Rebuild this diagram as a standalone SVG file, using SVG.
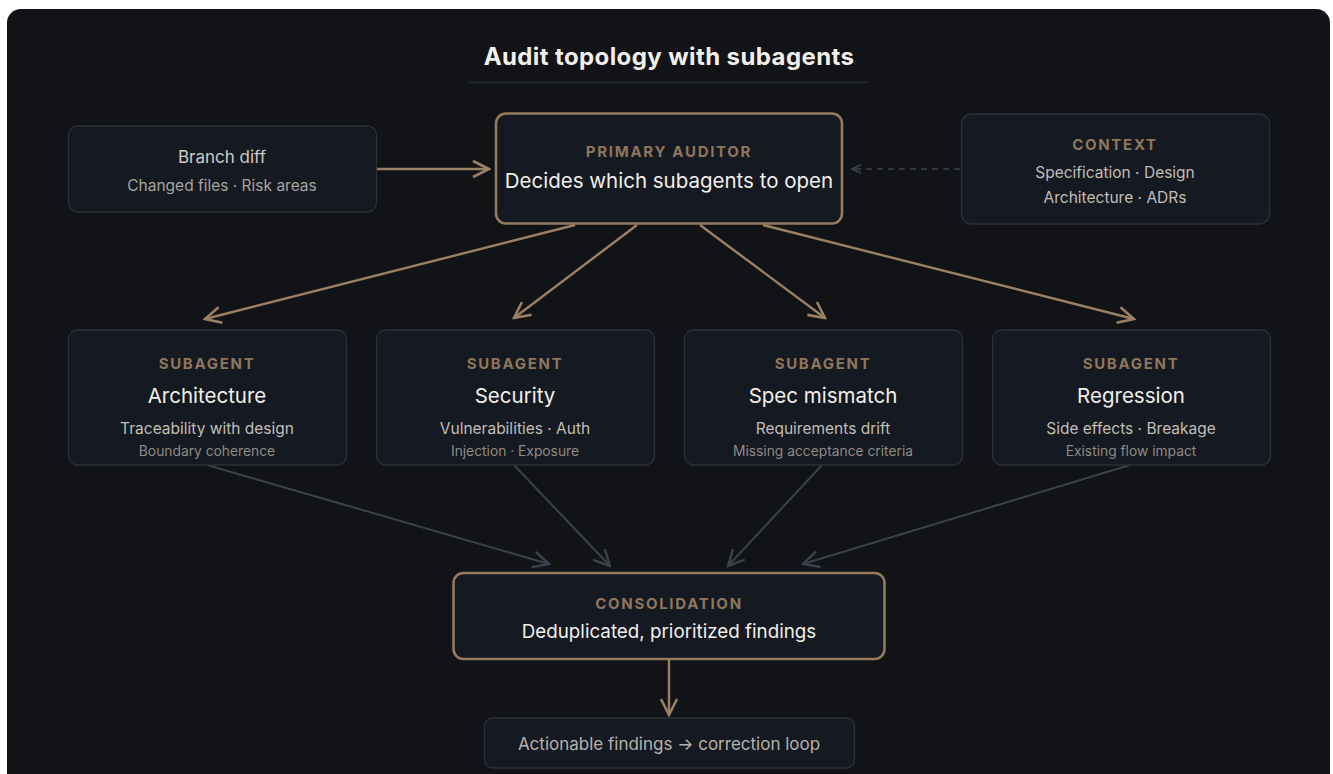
<svg xmlns="http://www.w3.org/2000/svg" width="1333" height="774" viewBox="0 0 1333 774">
<style>
text{font-family:Inter,"Noto Sans","Liberation Sans",sans-serif;text-anchor:middle}
.node{fill:#151921;stroke:#2c313a;stroke-width:1.3}
.main{fill:#151921;stroke:#957a5e;stroke-width:2.6}
.tag{font-size:15px;font-weight:700;letter-spacing:1.7px;fill:#8f765c}
.h{font-size:20.5px;fill:#f2efea}
.h2{font-size:17px;fill:#cfcbc4}
.s1{font-size:15.5px;fill:#c2beb7}
.s2{font-size:13.8px;fill:#8f8b85}
.gold{stroke:#9a8065;stroke-width:2.4;fill:none}
.grey{stroke:#3b424d;stroke-width:2;fill:none}
.dash{stroke:#3e444e;stroke-width:1.6;fill:none;stroke-dasharray:6 5}
</style>
<defs>
<marker id="ag" viewBox="0 0 20 20" refX="18" refY="10" markerWidth="20" markerHeight="20" markerUnits="userSpaceOnUse" orient="auto">
<path d="M2,2 L18,10 L2,18" fill="none" stroke="#9a8065" stroke-width="2.6"/>
</marker>
<marker id="ar" viewBox="0 0 20 20" refX="18" refY="10" markerWidth="20" markerHeight="20" markerUnits="userSpaceOnUse" orient="auto">
<path d="M2,2 L18,10 L2,18" fill="none" stroke="#3b424d" stroke-width="2.4"/>
</marker>
<marker id="ad" viewBox="0 0 12 12" refX="11" refY="6" markerWidth="12" markerHeight="12" markerUnits="userSpaceOnUse" orient="auto">
<path d="M2,2 L11,6 L2,10" fill="none" stroke="#3e444e" stroke-width="1.6"/>
</marker>
</defs>
<rect x="0" y="0" width="1333" height="774" fill="#ffffff"/>
<rect x="7" y="9" width="1323" height="780" rx="14" fill="#111317"/>
<g id="title">
<text x="669" y="65" style="font-size:24px;font-weight:700;fill:#f2efea;letter-spacing:0.4px">Audit topology with subagents</text>
<line x1="469" y1="82.5" x2="868" y2="82.5" stroke="#272b33" stroke-width="1.3"/>
</g>
<g id="connectors">
<line class="gold" x1="377" y1="169" x2="489" y2="169" marker-end="url(#ag)"/>
<line class="dash" x1="960" y1="169" x2="852" y2="169" marker-end="url(#ad)"/>
<line class="gold" x1="575" y1="225" x2="205" y2="319" marker-end="url(#ag)"/>
<line class="gold" x1="637" y1="225" x2="514" y2="318" marker-end="url(#ag)"/>
<line class="gold" x1="700" y1="225" x2="825" y2="318" marker-end="url(#ag)"/>
<line class="gold" x1="763" y1="225" x2="1134" y2="319" marker-end="url(#ag)"/>
<line class="grey" x1="207" y1="465" x2="549" y2="564" marker-end="url(#ar)"/>
<line class="grey" x1="514" y1="465" x2="610" y2="566" marker-end="url(#ar)"/>
<line class="grey" x1="822" y1="465" x2="728" y2="566" marker-end="url(#ar)"/>
<line class="grey" x1="1130" y1="465" x2="803" y2="564" marker-end="url(#ar)"/>
<line class="gold" x1="669" y1="660" x2="669" y2="715" marker-end="url(#ag)"/>
</g>
<g id="branch-diff">
<rect class="node" x="68.5" y="126" width="308" height="86" rx="9"/>
<text class="h2" x="222" y="163">Branch diff</text>
<text class="s1" x="222" y="191" style="fill:#a9a49d">Changed files · Risk areas</text>
</g>
<g id="primary-auditor">
<rect class="main" x="496" y="113.5" width="346" height="110" rx="10"/>
<text class="tag" x="669" y="157">PRIMARY AUDITOR</text>
<text class="h" x="669" y="188">Decides which subagents to open</text>
</g>
<g id="context">
<rect class="node" x="961.5" y="114" width="308" height="110" rx="10"/>
<text class="tag" x="1115" y="150">CONTEXT</text>
<text class="s1" x="1115" y="178">Specification · Design</text>
<text class="s1" x="1115" y="203">Architecture · ADRs</text>
</g>
<g id="sub-architecture">
<rect class="node" x="68.5" y="330" width="278" height="135" rx="9"/>
<text class="tag" x="207" y="369">SUBAGENT</text>
<text class="h" x="207" y="403">Architecture</text>
<text class="s1" x="207" y="434">Traceability with design</text>
<text class="s2" x="207" y="456">Boundary coherence</text>
</g>
<g id="sub-security">
<rect class="node" x="376.5" y="330" width="278" height="135" rx="9"/>
<text class="tag" x="515" y="369">SUBAGENT</text>
<text class="h" x="515" y="403">Security</text>
<text class="s1" x="515" y="434">Vulnerabilities · Auth</text>
<text class="s2" x="515" y="456">Injection · Exposure</text>
</g>
<g id="sub-spec">
<rect class="node" x="684.5" y="330" width="278" height="135" rx="9"/>
<text class="tag" x="823" y="369">SUBAGENT</text>
<text class="h" x="823" y="403">Spec mismatch</text>
<text class="s1" x="823" y="434">Requirements drift</text>
<text class="s2" x="823" y="456">Missing acceptance criteria</text>
</g>
<g id="sub-regression">
<rect class="node" x="992.5" y="330" width="278" height="135" rx="9"/>
<text class="tag" x="1131" y="369">SUBAGENT</text>
<text class="h" x="1131" y="403">Regression</text>
<text class="s1" x="1131" y="434">Side effects · Breakage</text>
<text class="s2" x="1131" y="456">Existing flow impact</text>
</g>
<g id="consolidation">
<rect class="main" x="453.5" y="573" width="431" height="86" rx="10"/>
<text class="tag" x="669" y="609">CONSOLIDATION</text>
<text class="h" x="669" y="638" style="font-size:18.8px">Deduplicated, prioritized findings</text>
</g>
<g id="actionable">
<rect class="node" x="484.5" y="718" width="370" height="50" rx="8"/>
<text class="h2" x="669" y="750" style="fill:#b7b2ab">Actionable findings → correction loop</text>
</g>
</svg>
